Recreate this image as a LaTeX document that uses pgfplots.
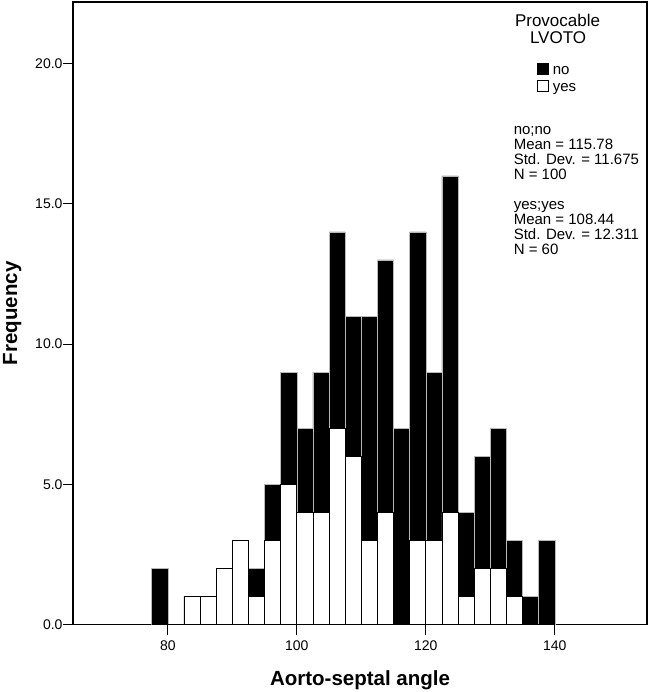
\documentclass[border=0pt]{standalone}
\usepackage{fontspec}
\setmainfont{Liberation Sans}
\usepackage{pgfplots}
\usepackage{pgfplotstable}
\pgfplotsset{compat=1.18}

% x = bin centre, yes = count of yes, total = yes + no (stack height)
\pgfplotstableread{
x      yes total
78.75  0   2
81.25  0   0
83.75  1   1
86.25  1   1
88.75  2   2
91.25  3   3
93.75  1   2
96.25  3   5
98.75  5   9
101.25 4   7
103.75 4   9
106.25 7   14
108.75 6   11
111.25 3   11
113.75 4   13
116.25 0   7
118.75 3   14
121.25 3   9
123.75 4   16
126.25 1   4
128.75 2   6
131.25 2   7
133.75 1   3
136.25 0   1
138.75 0   3
}\datatable

\begin{document}
\begin{tikzpicture}
\begin{axis}[
  name=ax,
  scale only axis,
  width=574pt, height=622.5pt,
  xmin=65.3, xmax=154.3,
  ymin=0, ymax=22.2,
  ybar, bar shift=0pt,
  bar width=2.5,
  clip=false,
  axis line style={line width=1.1pt},
  tick style={line width=1.1pt, black},
  tick align=outside,
  major tick length=10pt,
  xtick={80,100,120,140},
  ytick={0,5,10,15,20},
  xtick pos=bottom, ytick pos=left,
  /pgf/number format/assume math mode=true,
  ticklabel style={font=\fontsize{14}{16}\selectfont},
  yticklabel style={/pgf/number format/.cd, fixed, fixed zerofill, precision=1, /tikz/xshift=3pt},
  xticklabel style={/pgf/number format/.cd, fixed, precision=0, /tikz/yshift=-3pt},
  xlabel={Aorto-septal angle},
  ylabel={Frequency},
  xlabel style={font=\bfseries\fontsize{20.5}{22}\selectfont, at={(axis description cs:0.5,0)}, anchor=base, yshift=-60.5pt},
  ylabel style={font=\bfseries\fontsize{20.5}{22}\selectfont, at={(axis description cs:-0.106,0.5)}, anchor=center},
  legend image code/.code={\draw[#1, line width=0.8pt, draw=black] (0pt,-4pt) rectangle (11pt,7pt);},
  legend style={at={(axis cs:137.21,20.03)}, anchor=north west, draw=none, fill=none, inner sep=0pt,
    font=\fontsize{15}{15}\selectfont, row sep=2.7pt, column sep=4pt,
    nodes={inner sep=0pt, text height=11pt, text depth=3pt}},
  legend cell align=left,
]
\addplot[fill=black, draw=gray!55, line width=0.5pt] table[x=x, y=total] {\datatable};
\addlegendentry{no}
\addplot[fill=white, draw=black, line width=0.8pt] table[x=x, y=yes] {\datatable};
\addlegendentry{yes}

\node[anchor=base, font=\fontsize{17}{17}\selectfont] at (axis cs:140.43,21.31) {Provocable};
\node[anchor=base, font=\fontsize{17}{17}\selectfont] at (axis cs:140.51,20.72) {LVOTO};
\node[anchor=base west, inner sep=0pt, font=\fontsize{15}{15}\selectfont] at (axis cs:133.61,17.487) {no;no};
\node[anchor=base west, inner sep=0pt, font=\fontsize{15}{15}\selectfont] at (axis cs:133.61,16.952) {Mean = 115.78};
\node[anchor=base west, inner sep=0pt, font=\fontsize{15}{15}\selectfont] at (axis cs:133.61,16.417) {Std. Dev. = 11.675};
\node[anchor=base west, inner sep=0pt, font=\fontsize{15}{15}\selectfont] at (axis cs:133.61,15.882) {N = 100};
\node[anchor=base west, inner sep=0pt, font=\fontsize{15}{15}\selectfont] at (axis cs:133.61,14.811) {yes;yes};
\node[anchor=base west, inner sep=0pt, font=\fontsize{15}{15}\selectfont] at (axis cs:133.61,14.276) {Mean = 108.44};
\node[anchor=base west, inner sep=0pt, font=\fontsize{15}{15}\selectfont] at (axis cs:133.61,13.740) {Std. Dev. = 12.311};
\node[anchor=base west, inner sep=0pt, font=\fontsize{15}{15}\selectfont] at (axis cs:133.61,13.205) {N = 60};
\end{axis}
\pgfresetboundingbox
\path[use as bounding box] (ax.south west) ++(-73pt,-67.5pt) rectangle ++(650pt,692pt);
\end{tikzpicture}
\end{document}
